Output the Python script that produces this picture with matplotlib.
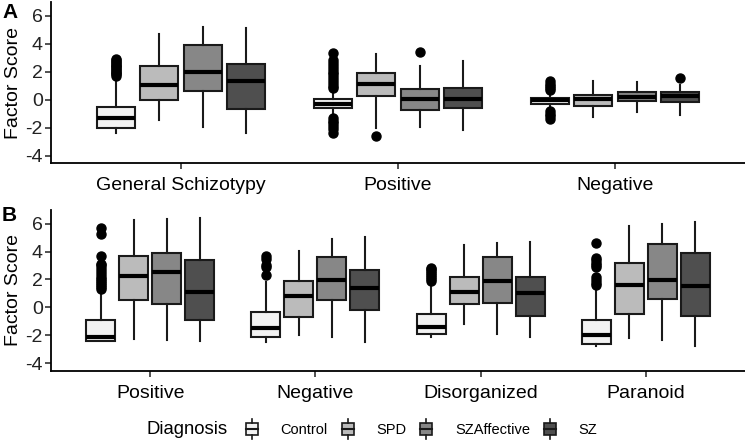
import matplotlib
matplotlib.use("Agg")
import matplotlib.pyplot as plt
from matplotlib.patches import Rectangle
from matplotlib.lines import Line2D
from matplotlib.legend_handler import HandlerBase

plt.rcParams['font.family'] = ['Liberation Sans', 'DejaVu Sans']

groups = ["Control", "SPD", "SZAffective", "SZ"]
group_colors = ["#F2F2F2", "#BBBBBB", "#878787", "#4F4F4F"]

# ---------------- Panel A ----------------
factors_A = ["General Schizotypy", "Positive", "Negative"]
# rows: factor, columns: group (Control, SPD, SZAffective, SZ)
whislo_A = [[-2.38, -1.43, -1.98, -2.38],
            [-1.00, -2.02, -1.98, -2.14],
            [-0.70, -1.26, -0.88, -1.07]]
q1_A = [[-2.02, -0.05, 0.60, -0.64],
        [-0.60, 0.29, -0.76, -0.62],
        [-0.31, -0.43, -0.12, -0.17]]
med_A = [[-1.31, 1.07, 1.98, 1.31],
         [-0.29, 1.14, 0.05, 0.05],
         [-0.05, 0.05, 0.19, 0.24]]
q3_A = [[-0.50, 2.38, 3.93, 2.52],
        [0.05, 1.90, 0.76, 0.83],
        [0.14, 0.36, 0.52, 0.55]]
whishi_A = [[1.55, 4.67, 5.19, 5.12],
            [0.70, 3.26, 2.38, 2.79],
            [0.50, 1.31, 1.24, 1.07]]
fliers_A = [[[1.7, 1.8, 1.9, 2.0, 2.1, 2.2, 2.3, 2.4, 2.5, 2.6, 2.7, 2.8, 2.9], [], [], []],
            [[0.85, 1.0, 1.2, 1.4, 1.6, 1.8, 2.0, 2.2, 2.4, 2.6, 2.8, 3.3,
              -1.3, -1.5, -1.7, -1.9, -2.1, -2.35], [-2.62], [3.38], []],
            [[0.67, 0.85, 1.0, 1.15, 1.31, -0.83, -1.0, -1.2, -1.38], [], [], [1.57]]]

# ---------------- Panel B ----------------
factors_B = ["Positive", "Negative", "Disorganized", "Paranoid"]
whislo_B = [[-2.43, -2.31, -2.33, -2.43],
            [-2.50, -2.02, -2.14, -2.50],
            [-2.14, -1.19, -1.95, -2.14],
            [-2.79, -2.21, -2.33, -2.81]]
q1_B = [[-2.43, 0.52, 0.24, -0.88],
        [-2.10, -0.71, 0.52, -0.17],
        [-1.90, 0.24, 0.29, -0.64],
        [-2.67, -0.48, 0.57, -0.60]]
med_B = [[-2.14, 2.26, 2.50, 1.12],
         [-1.50, 0.83, 1.98, 1.36],
         [-1.38, 1.07, 1.86, 1.02],
         [-1.98, 1.60, 1.95, 1.55]]
q3_B = [[-0.90, 3.69, 3.93, 3.38],
        [-0.36, 1.90, 3.62, 2.67],
        [-0.48, 2.19, 3.62, 2.14],
        [-0.90, 3.21, 4.57, 3.86]]
whishi_B = [[1.19, 6.24, 6.31, 6.38],
            [1.79, 4.05, 4.88, 5.05],
            [1.70, 4.48, 4.64, 4.71],
            [1.45, 5.83, 6.00, 6.14]]
fliers_B = [[[1.3, 1.45, 1.6, 1.75, 1.9, 2.05, 2.2, 2.4, 2.6, 2.8, 3.0, 3.1, 3.69, 5.24, 5.71], [], [], []],
            [[2.33, 2.9, 3.05, 3.45, 3.65], [], [], []],
            [[1.85, 2.0, 2.15, 2.3, 2.45, 2.6, 2.75, 2.85], [], [], []],
            [[1.6, 1.75, 1.95, 2.14, 2.86, 3.0, 3.2, 3.4, 3.57, 4.64], [], [], []]]

yticks = [-4, -2, 0, 2, 4, 6]

W, H = 745, 442
fig = plt.figure(figsize=(W / 100, H / 100), dpi=100)

dodge = [-0.3, -0.1, 0.1, 0.3]
box_w = 0.175


def draw_panel(ax, factors, wlo, q1, med, q3, whi, fl):
    for fi in range(len(factors)):
        for gi in range(len(groups)):
            st = dict(whislo=wlo[fi][gi], q1=q1[fi][gi], med=med[fi][gi],
                      q3=q3[fi][gi], whishi=whi[fi][gi], fliers=fl[fi][gi])
            ax.bxp([st], positions=[fi + 1 + dodge[gi]], widths=box_w,
                   patch_artist=True, showcaps=False,
                   boxprops=dict(facecolor=group_colors[gi], edgecolor="#1a1a1a", linewidth=1.5),
                   medianprops=dict(color="black", linewidth=3, solid_capstyle="butt"),
                   whiskerprops=dict(color="#1a1a1a", linewidth=1.5),
                   flierprops=dict(marker="o", markerfacecolor="black", markeredgecolor="black",
                                   markersize=6.5))
    ax.set_xlim(0.4, len(factors) + 0.6)
    ax.set_ylim(-4.55, 6.98)
    ax.set_xticks(range(1, len(factors) + 1))
    ax.set_xticklabels(factors, fontsize=14, color="black")
    ax.set_yticks(yticks)
    ax.set_yticklabels([str(v) for v in yticks], fontsize=14, color="#222222")
    ax.set_ylabel("Factor Score", fontsize=14, labelpad=2)
    for s in ["top", "right"]:
        ax.spines[s].set_visible(False)
    for s in ["left", "bottom"]:
        ax.spines[s].set_linewidth(1.3)
    ax.tick_params(axis="both", length=4, width=1.2, color="#333333")
    ax.tick_params(axis="x", pad=6)
    ax.tick_params(axis="y", pad=2)


axA = fig.add_axes([51 / W, 1 - 163.3 / H, (W - 51) / W, (163.3 - 2) / H])
draw_panel(axA, factors_A, whislo_A, q1_A, med_A, q3_A, whishi_A, fliers_A)
axB = fig.add_axes([51 / W, 1 - 370.7 / H, (W - 51) / W, (370.7 - 210) / H])
draw_panel(axB, factors_B, whislo_B, q1_B, med_B, q3_B, whishi_B, fliers_B)

fig.text(2 / W, 1 - 12 / H, "A", fontsize=15, fontweight="bold", va="center", ha="left")
fig.text(2 / W, 1 - 215 / H, "B", fontsize=15, fontweight="bold", va="center", ha="left")


class BoxKeyHandler(HandlerBase):
    def create_artists(self, legend, orig_handle, xdescent, ydescent, width, height, fontsize, trans):
        x0 = -xdescent
        cy = -ydescent + height / 2
        bh = height
        fc = orig_handle.get_facecolor()
        rect = Rectangle((x0, cy - bh / 2), width, bh, facecolor=fc, edgecolor="#1a1a1a",
                         linewidth=1.2, transform=trans)
        mid = Line2D([x0, x0 + width], [cy, cy], color="#1a1a1a", linewidth=1.5, transform=trans)
        wt = Line2D([x0 + width / 2] * 2, [cy + bh / 2, cy + bh * 0.86], color="#1a1a1a",
                    linewidth=1.2, transform=trans)
        wb = Line2D([x0 + width / 2] * 2, [cy - bh / 2, cy - bh * 0.86], color="#1a1a1a",
                    linewidth=1.2, transform=trans)
        return [rect, mid, wt, wb]


handles = [Rectangle((0, 0), 1, 1, facecolor=c) for c in group_colors]
fig.text(147 / W, 1 - 430 / H, "Diagnosis", fontsize=13.3, va="center", ha="left")
fig.legend(handles, groups, handler_map={Rectangle: BoxKeyHandler()},
           loc="center left", bbox_to_anchor=(246 / W, 1 - 430 / H), ncol=4,
           frameon=False, fontsize=10.5, handlelength=0.82, handleheight=0.9,
           handletextpad=1.56, columnspacing=0.94, borderpad=0, borderaxespad=0)

fig.savefig("out.png", dpi=100)
